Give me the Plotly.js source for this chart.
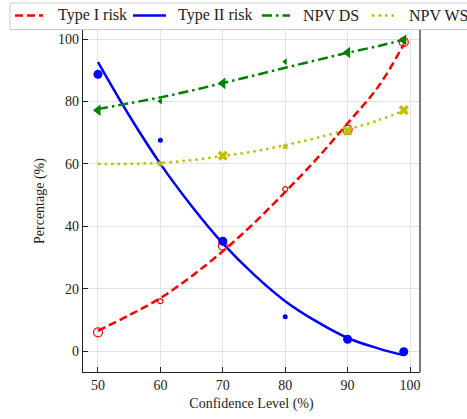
<!DOCTYPE html>
<html>
<head>
<meta charset="utf-8">
<script src="https://cdn.plot.ly/plotly-3.0.1.min.js"></script>
<style>html,body{margin:0;padding:0;background:#fff;}#chart{width:467px;height:419px;}</style>
</head>
<body>
<div id="chart"></div>
<script>
// Observed (marker) data
const levels = [50, 60, 70, 80, 90, 99];
const markerSizes = [9, 5, 9, 5, 9, 9];
const type1Obs = [6.0, 16.0, 33.8, 51.9, 71.0, 99.0];
const type2Obs = [88.7, 67.6, 35.2, 11.0, 3.8, -0.2];
const npvDsObs = [77.2, 80.1, 85.8, 92.7, 95.7, 99.7];
const wsLevels = [60, 70, 80, 90, 99];
const wsSizes = [5, 9, 5, 9, 9];
const npvWsObs = [60.0, 62.6, 65.5, 70.6, 77.2];

// Fitted curves
const curveX = [50, 55, 60, 65, 70, 75, 80, 85, 90, 95, 99];
const type1Fit = [6.5, 11.5, 17.0, 24.0, 32.0, 41.0, 51.0, 61.5, 73.0, 85.0, 98.3];
const type2Fit = [92.6, 75.5, 60.0, 46.5, 34.5, 24.5, 16.0, 9.5, 4.2, 0.8, -1.3];
const npvDsFit = [77.6, 79.4, 81.3, 83.5, 85.9, 88.3, 90.8, 93.2, 95.6, 97.8, 99.8];
const npvWsFit = [60.0, 60.0, 60.3, 61.2, 62.5, 64.0, 66.0, 68.3, 71.0, 74.0, 77.0];

const names = ['Type I risk', 'Type II risk', 'NPV DS', 'NPV WS'];
const colors = ['#ff0000', '#0000ff', '#008000', '#bfbf00'];
const dashes = ['8px,4px', 'solid', '10px,4px,2.5px,4px', '2.5px,4px'];

const traces = [
  {x: curveX, y: type1Fit, name: names[0], mode: 'lines', line: {color: colors[0], width: 2.5, dash: dashes[0], shape: 'spline'}},
  {x: curveX, y: type2Fit, name: names[1], mode: 'lines', line: {color: colors[1], width: 2.5, dash: dashes[1], shape: 'spline'}},
  {x: curveX, y: npvDsFit, name: names[2], mode: 'lines', line: {color: colors[2], width: 2.5, dash: dashes[2], shape: 'spline'}},
  {x: curveX, y: npvWsFit, name: names[3], mode: 'lines', line: {color: colors[3], width: 2.5, dash: dashes[3], shape: 'spline'}},
  {x: levels, y: type1Obs, name: names[0], mode: 'markers', marker: {symbol: 'circle-open', opacity: 1, color: colors[0], size: markerSizes, line: {width: 1.2, color: colors[0]}}},
  {x: levels, y: type2Obs, name: names[1], mode: 'markers', marker: {symbol: 'circle', opacity: 1, color: colors[1], size: markerSizes, line: {width: 0}}},
  {x: levels, y: npvDsObs, name: names[2], mode: 'markers', marker: {symbol: 'triangle-left', opacity: 1, color: colors[2], size: markerSizes.map(s => s + 1), line: {width: 0}}},
  {x: wsLevels, y: npvWsObs, name: names[3], mode: 'markers', marker: {symbol: 'x', opacity: 1, color: colors[3], size: wsSizes, line: {width: 0}}}
];

const fam = "'Liberation Serif', 'DejaVu Serif', serif";
const font = {family: fam, size: 14, color: '#222'};

// plot area in pixels (for legend placement)
const L = 83, R = 420, T = 30, B = 372;
const px = v => (v - L) / (R - L);
const py = v => (B - v) / (B - T);

// legend layout (pixel positions of sample start/end and label start)
const legSample = [[15, 43], [133, 166], [262, 290], [372, 394]];
const legText = [57, 177, 302, 408];
const legY = 15.5;

const shapes = [
  {type: 'line', xref: 'paper', yref: 'paper', x0: 1, x1: 1, y0: 0, y1: 1, line: {color: '#222', width: 1.2}},
  {type: 'rect', xref: 'paper', yref: 'paper', x0: px(10), x1: px(475), y0: py(29.5), y1: py(3), fillcolor: 'rgba(255,255,255,0.9)', line: {color: '#cccccc', width: 1}}
];
const annotations = [];
names.forEach((n, i) => {
  shapes.push({type: 'line', xref: 'paper', yref: 'paper', x0: px(legSample[i][0]), x1: px(legSample[i][1]), y0: py(legY), y1: py(legY), line: {color: colors[i], width: 2.5, dash: dashes[i]}});
  annotations.push({xref: 'paper', yref: 'paper', x: px(legText[i] - 1), y: py(legY), xanchor: 'left', yanchor: 'middle', showarrow: false, text: n, font: {family: fam, size: 16, color: '#222'}});
});

const layout = {
  width: 467, height: 419,
  margin: {l: L, r: 467 - R, t: T, b: 419 - B},
  paper_bgcolor: '#fff', plot_bgcolor: '#fff',
  font: font,
  showlegend: false,
  xaxis: {
    range: [47.6, 101.6],
    tickvals: [50, 60, 70, 80, 90, 100],
    ticks: 'inside', ticklen: 5, tickcolor: '#222',
    showline: true, linecolor: '#222', linewidth: 1.2,
    showgrid: true, gridcolor: '#e3e3e3', gridwidth: 1,
    zeroline: false, automargin: false,
    tickfont: {family: fam, size: 14, color: '#222'},
    title: {text: 'Confidence Level (%)', font: {family: fam, size: 14, color: '#222'}, standoff: 6}
  },
  yaxis: {
    range: [-6.7, 102.9],
    tickvals: [0, 20, 40, 60, 80, 100],
    ticks: 'inside', ticklen: 5, tickcolor: '#222',
    showline: true, linecolor: '#222', linewidth: 1.2,
    showgrid: true, gridcolor: '#e3e3e3', gridwidth: 1,
    zeroline: false, automargin: false,
    tickfont: {family: fam, size: 14, color: '#222'},
    title: {text: 'Percentage (%)', font: {family: fam, size: 14, color: '#222'}, standoff: 10}
  },
  shapes: shapes,
  annotations: annotations
};

Plotly.newPlot('chart', traces, layout, {displayModeBar: false, staticPlot: true});
</script>
</body>
</html>
